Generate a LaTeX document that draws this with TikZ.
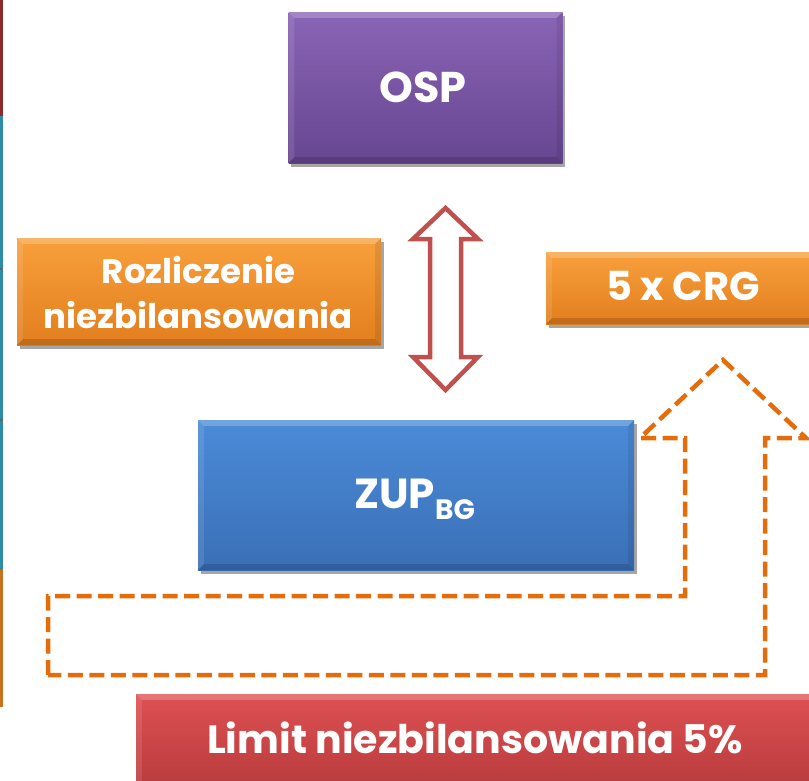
\documentclass[tikz,border=0pt]{standalone}
\usepackage{fontspec}
\setmainfont{Poppins}
\usetikzlibrary{shadows}
\definecolor{purT}{HTML}{8A64B6}
\definecolor{purB}{HTML}{674691}
\definecolor{orT}{HTML}{F8A03C}
\definecolor{orB}{HTML}{E27E1E}
\definecolor{blT}{HTML}{4B8BD8}
\definecolor{blB}{HTML}{3A6FB6}
\definecolor{rdT}{HTML}{DE5052}
\definecolor{rdB}{HTML}{B2383A}
\definecolor{arrRed}{HTML}{C0504D}
\definecolor{dashOr}{HTML}{E46C0A}
\definecolor{stRed}{HTML}{8E2A2C}
\definecolor{stTeal}{HTML}{2F8CA6}
\definecolor{stOr}{HTML}{C8711E}
\newcommand{\bevelbox}[1]{%
  \fill[white,opacity=.22] (#1.north west) -- (#1.north east) -- ([xshift=-6pt,yshift=-6pt]#1.north east) -- ([xshift=6pt,yshift=-6pt]#1.north west) -- cycle;
  \fill[white,opacity=.10] (#1.north west) -- ([xshift=6pt,yshift=-6pt]#1.north west) -- ([xshift=6pt,yshift=6pt]#1.south west) -- (#1.south west) -- cycle;
  \fill[black,opacity=.15] (#1.south west) -- (#1.south east) -- ([xshift=-6pt,yshift=6pt]#1.south east) -- ([xshift=6pt,yshift=6pt]#1.south west) -- cycle;
  \fill[black,opacity=.08] (#1.north east) -- ([xshift=-6pt,yshift=-6pt]#1.north east) -- ([xshift=-6pt,yshift=6pt]#1.south east) -- (#1.south east) -- cycle;}
\begin{document}
\begin{tikzpicture}[x=1pt,y=-1pt,
  box/.style={rectangle, inner sep=0pt, draw=none,
    drop shadow={shadow xshift=2.5pt, shadow yshift=-3.5pt, opacity=.35, fill=black}},
  lbl/.style={text=white, font=\bfseries, align=center, inner sep=0pt},
  dbl/.style={draw=arrRed, line width=4.5pt, fill=white, line join=miter},
  dsh/.style={draw=dashOr, line width=4.5pt, dash pattern=on 15pt off 6.5pt, line join=miter}]
\useasboundingbox (0,0) rectangle (809,780);
\fill[white] (0,0) rectangle (809,780);
% left edge strips
\fill[stRed] (0,0) rectangle (3,116);
\fill[stTeal] (0,116) rectangle (3,570);
\fill[black!60] (0,268) rectangle (3,270);
\fill[black!60] (0,419) rectangle (3,421);
\fill[stOr] (0,570) rectangle (3,707);
% boxes
\node[box, top color=purT, bottom color=purB, minimum width=274pt, minimum height=151pt] (osp) at (425.5,87.5) {};
\node[box, top color=orT, bottom color=orB, minimum width=364pt, minimum height=107pt] (rozl) at (199,291.5) {};
\node[box, top color=orT, bottom color=orB, minimum width=270pt, minimum height=72pt] (crg) at (681,288) {};
\node[box, top color=blT, bottom color=blB, minimum width=436pt, minimum height=150pt] (zup) at (416,495) {};
\node[box, top color=rdT, bottom color=rdB, minimum width=680pt, minimum height=110pt] (lim) at (476,749) {};
\bevelbox{osp}
\bevelbox{rozl}
\bevelbox{crg}
\bevelbox{zup}
\bevelbox{lim}
% labels
\node[lbl, font=\bfseries\fontsize{43}{47}\selectfont] (ospT) at (423,87.5) {OSP};
\node[lbl, font=\bfseries\fontsize{34}{45}\selectfont] (rozlT) at (198.5,292.5) {Rozliczenie\\niezbilansowania};
\node[lbl, font=\bfseries\fontsize{40}{44}\selectfont] (crgT) at (683,286) {5 x CRG};
\node[lbl, font=\bfseries\fontsize{42}{46}\selectfont, anchor=base west] (zupT) at (354,508) {ZUP\textsubscript{\fontsize{28}{30}\selectfont BG}};
\node[lbl, font=\bfseries\fontsize{39.5}{44}\selectfont, anchor=base] (limT) at (475,753) {Limit niezbilansowania 5\%};
% double arrow between OSP and ZUP
\draw[dbl] (445.5,208) -- (478,239) -- (461,239) -- (461,357) -- (478,357)
  -- (445.5,390) -- (413,357) -- (430,357) -- (430,239) -- (413,239) -- cycle;
% dashed bent-up arrow
\draw[dsh] (48,675) -- (48,596) -- (685,596) -- (685,438) -- (640,438)
  -- (723,360) -- (806,438) -- (765,438) -- (765,675) -- cycle;
\end{tikzpicture}
\end{document}
